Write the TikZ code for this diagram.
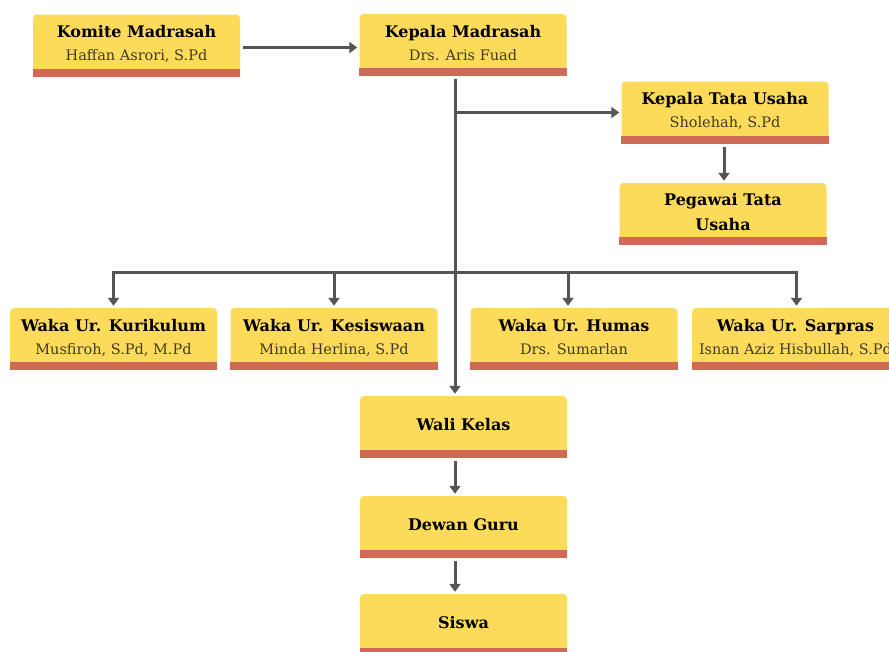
\documentclass[tikz,border=0pt]{standalone}
\usepackage{fontspec}
\setmainfont{DejaVu Serif}
\usetikzlibrary{arrows.meta}

\definecolor{boxyellow}{RGB}{253,219,90}
\definecolor{barred}{RGB}{207,106,88}
\definecolor{linegray}{RGB}{85,85,85}
\definecolor{subgray}{RGB}{66,58,40}

\newcommand{\titlefnt}{\fontsize{16}{19}\selectfont\bfseries}
\newcommand{\subfnt}{\fontsize{14.5}{17}\selectfont\mdseries\color{subgray}}
\newcommand{\boxtext}[2]{\raisebox{4pt}{\titlefnt\begin{tabular}{@{}c@{}}#1\\[4pt]\subfnt #2\end{tabular}}}
\newcommand{\onetext}[1]{\raisebox{4pt}{\titlefnt\begin{tabular}{@{}c@{}}#1\end{tabular}}}

\tikzset{
orgbox/.style={fill=boxyellow,rounded corners=4pt,inner sep=0pt,
  minimum width=207pt,minimum height=62pt},
orgbar/.style={fill=barred,sharp corners},
link/.style={linegray,line width=3pt},
arrowlink/.style={link,-{Triangle[width=11pt,length=8pt]},shorten >=2pt}}

\begin{document}
\begin{tikzpicture}[x=1pt,y=-1pt]
  \useasboundingbox (0,0) rectangle (889,651);
  % top row
  \node[orgbox] (komite) at (136.5,45.5) {\boxtext{Komite Madrasah}{Haffan Asrori, S.Pd}};
  \node[orgbox] (kepala) at (463,45) {\boxtext{Kepala Madrasah}{Drs. Aris Fuad}};
  \node[orgbox] (kepalatu) at (725,112.5) {\boxtext{Kepala Tata Usaha}{Sholehah, S.Pd}};
  \node[orgbox] (pegawai) at (723,214) {\onetext{Pegawai Tata\\[6pt]Usaha}};
  % waka
  \node[orgbox] (kurikulum) at (113.5,339) {\boxtext{Waka Ur. Kurikulum}{Musfiroh, S.Pd, M.Pd}};
  \node[orgbox] (kesiswaan) at (334,339) {\boxtext{Waka Ur. Kesiswaan}{Minda Herlina, S.Pd}};
  \node[orgbox] (humas) at (574,339) {\boxtext{Waka Ur. Humas}{Drs. Sumarlan}};
  \node[orgbox] (sarpras) at (795.5,339) {\boxtext{Waka Ur. Sarpras}{Isnan Aziz Hisbullah, S.Pd}};
  % bottom column
  \node[orgbox] (wali) at (463.5,427) {\onetext{Wali Kelas}};
  \node[orgbox] (dewan) at (463.5,527) {\onetext{Dewan Guru}};
  \node[orgbox] (siswa) at (463.5,625) {\onetext{Siswa}};

  \foreach \n in {komite,kepala,kepalatu,pegawai,kurikulum,kesiswaan,humas,sarpras,wali,dewan,siswa}
    \fill[orgbar] ([yshift=8pt]\n.south west) rectangle (\n.south east);

  \coordinate (trunktop) at ([xshift=-8pt]kepala.south);
  \coordinate (wakabar) at (455,272);

  \draw[arrowlink,shorten <=3pt] ([yshift=-2pt]komite.east) -- ([yshift=-2pt]komite.east -| kepala.west);
  \draw[arrowlink,shorten <=3pt] (trunktop) -- (trunktop |- wali.north);
  \draw[arrowlink] (trunktop |- kepalatu.west) -- (kepalatu.west);
  \draw[arrowlink,shorten <=3pt] ([xshift=-1pt]kepalatu.south) -- ([xshift=-1pt]kepalatu.south |- pegawai.north);
  \draw[arrowlink] (wakabar) -| (kurikulum.north);
  \draw[arrowlink] (wakabar) -| ([xshift=1pt]sarpras.north);
  \draw[arrowlink] (kesiswaan.north |- wakabar) -- (kesiswaan.north);
  \draw[arrowlink] ([xshift=-6pt]humas.north |- wakabar) -- ([xshift=-6pt]humas.north);
  \draw[arrowlink,shorten <=3pt] ([xshift=-8.5pt]wali.south) -- ([xshift=-8.5pt]dewan.north);
  \draw[arrowlink,shorten <=3pt] ([xshift=-8.5pt]dewan.south) -- ([xshift=-8.5pt]siswa.north);
\end{tikzpicture}
\end{document}
